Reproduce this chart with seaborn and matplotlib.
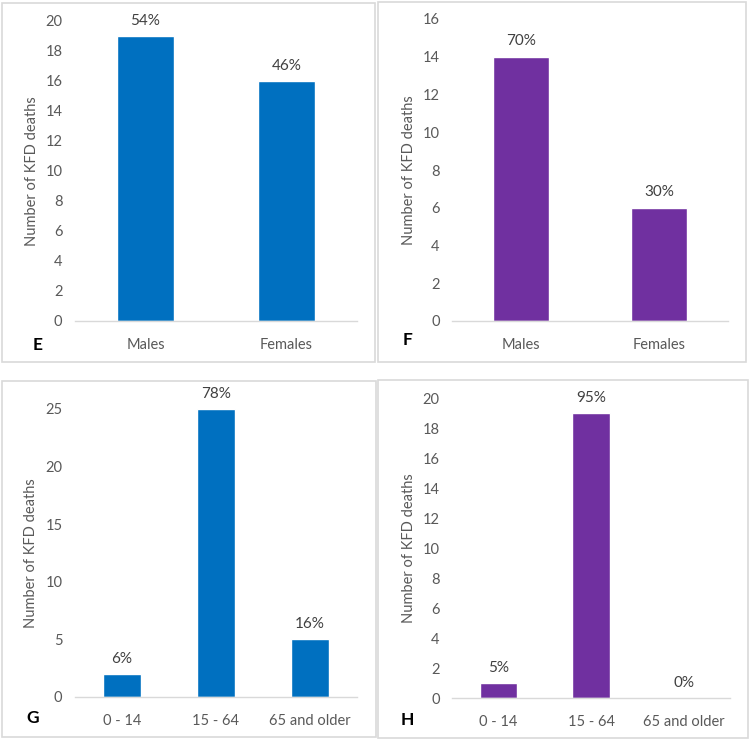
import matplotlib
matplotlib.use("Agg")
import matplotlib.pyplot as plt
import seaborn as sns
import pandas as pd
from matplotlib.patches import Rectangle

sns.set_theme(style="white")
plt.rcParams['font.family'] = ['Lato', 'DejaVu Sans']

# ---- data ----
sex_categories = ["Males", "Females"]
age_categories = ["0 - 14", "15 - 64", "65 and older"]

e_values = [19, 16]
e_pcts = ["54%", "46%"]
f_values = [14, 6]
f_pcts = ["70%", "30%"]
g_values = [2, 25, 5]
g_pcts = ["6%", "78%", "16%"]
h_values = [1, 19, 0]
h_pcts = ["5%", "95%", "0%"]

e_ticks = [0, 2, 4, 6, 8, 10, 12, 14, 16, 18, 20]
f_ticks = [0, 2, 4, 6, 8, 10, 12, 14, 16]
g_ticks = [0, 5, 10, 15, 20, 25]
h_ticks = [0, 2, 4, 6, 8, 10, 12, 14, 16, 18, 20]

BLUE = "#0070C0"
PURPLE = "#7030A0"
TXT = "#595959"
GRID = "#D9D9D9"

W, H = 750, 741
fig = plt.figure(figsize=(W / 100, H / 100), dpi=100)


def px_axes(x0, y0, x1, y1):
    return fig.add_axes([x0 / W, 1 - y1 / H, (x1 - x0) / W, (y1 - y0) / H])


def border(x0, y0, x1, y1):
    fig.patches.append(Rectangle((x0 / W, 1 - y1 / H), (x1 - x0) / W, (y1 - y0) / H,
                                 transform=fig.transFigure, fill=False,
                                 edgecolor=GRID, linewidth=1.2))


def panel(ax, cats, vals, pcts, ticks, color, letter, lx, ly):
    df = pd.DataFrame({"cat": cats, "val": vals})
    sns.barplot(data=df, x="cat", y="val", color=color, saturation=1,
                width=0.4, ax=ax, errorbar=None)
    ax.set_ylim(0, ticks[-1])
    ax.set_yticks(ticks)
    ax.set_xlabel("")
    ax.set_ylabel("Number of KFD deaths", color=TXT, fontsize=10.5, labelpad=5)
    ax.tick_params(axis="both", length=0, colors=TXT, labelsize=10.5)
    ax.tick_params(axis="y", pad=9)
    ax.tick_params(axis="x", pad=12, labelsize=10.5)
    for s in ["top", "right", "left"]:
        ax.spines[s].set_visible(False)
    ax.spines["bottom"].set_color(GRID)
    ax.spines["bottom"].set_linewidth(1)
    ax.bar_label(ax.containers[0], labels=pcts, padding=6, color="#404040",
                 fontsize=11)
    for b in ax.containers[0]:
        b.set_clip_on(False)
    fig.text(lx / W, 1 - ly / H, letter, fontsize=12.5, fontweight="bold",
             color="black", ha="center", va="center")


border(2, 3, 375, 362)
border(378, 2, 746, 362)
border(2, 381, 376, 737)
border(378, 380, 748, 738)

axE = px_axes(75, 21, 357, 321)
panel(axE, sex_categories, e_values, e_pcts, e_ticks, BLUE, "E", 38, 345)
axF = px_axes(452, 19, 728, 321)
panel(axF, sex_categories, f_values, f_pcts, f_ticks, PURPLE, "F", 408, 340)
axG = px_axes(75, 409, 357, 697)
panel(axG, age_categories, g_values, g_pcts, g_ticks, BLUE, "G", 33, 718)
axH = px_axes(452, 398, 730, 698)
panel(axH, age_categories, h_values, h_pcts, h_ticks, PURPLE, "H", 407, 720)

fig.savefig("out.png", dpi=100)
